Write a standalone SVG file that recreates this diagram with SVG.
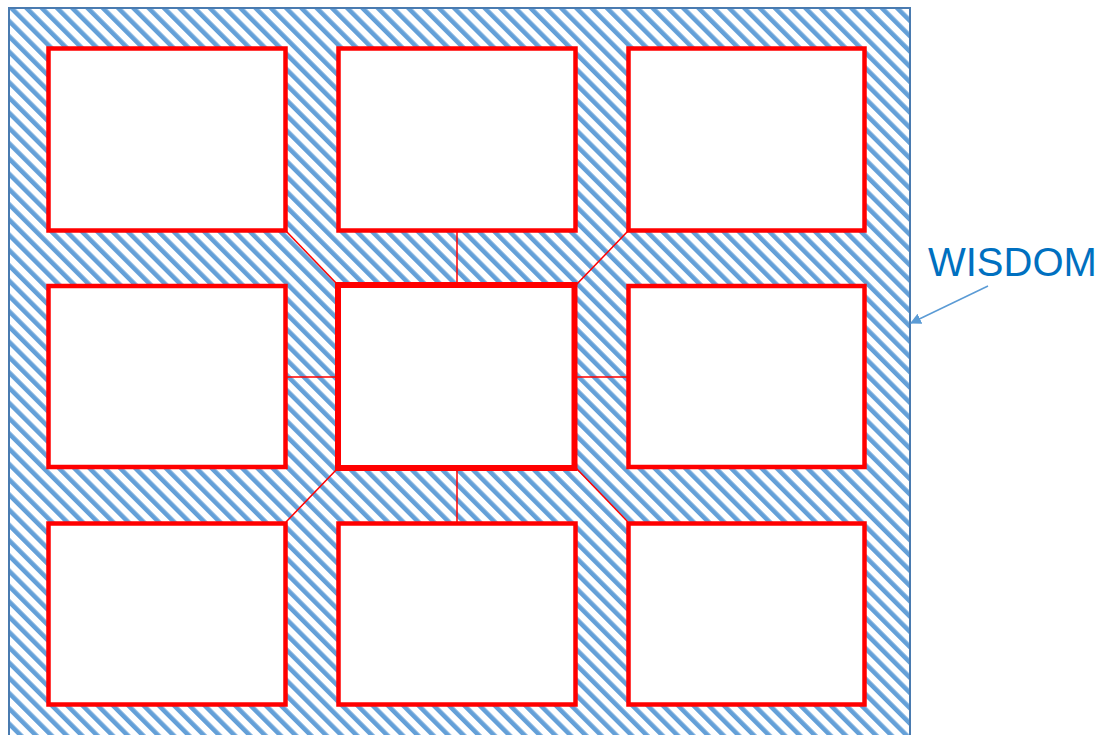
<svg xmlns="http://www.w3.org/2000/svg" width="1104" height="735" viewBox="0 0 1104 735">
  <style>
    .box { fill: #ffffff; stroke: #ff0000; stroke-width: 4.5; }
    .center { stroke-width: 6; }
    .conn { stroke: #ff0000; stroke-width: 1.5; fill: none; }
    .label { font-family: "Liberation Sans", Arial, sans-serif; font-size: 40px; fill: #0070c0; }
  </style>
  <defs>
    <pattern id="hatch" patternUnits="userSpaceOnUse" width="10.8" height="10.8" patternTransform="rotate(-45)">
      <rect x="0" y="0" width="10.8" height="10.8" fill="#ffffff"/>
      <rect x="0" y="0" width="4.6" height="10.8" fill="#64a0d8"/>
    </pattern>
    <marker id="arrow" viewBox="0 0 10 10" refX="9" refY="5" markerWidth="11" markerHeight="11" markerUnits="userSpaceOnUse" orient="auto">
      <path d="M0,0 L10,5 L0,10 z" fill="#5b9bd5"/>
    </marker>
  </defs>

  <g id="wisdom-area">
    <rect x="9" y="8" width="901" height="740" fill="url(#hatch)" stroke="#4a7bb0" stroke-width="2"/>
  </g>

  <g id="connectors">
    <line class="conn" x1="286" y1="231" x2="338" y2="285"/>
    <line class="conn" x1="457" y1="231" x2="457" y2="285"/>
    <line class="conn" x1="628" y1="231" x2="576" y2="285"/>
    <line class="conn" x1="286" y1="377" x2="338" y2="377"/>
    <line class="conn" x1="576" y1="377" x2="628" y2="377"/>
    <line class="conn" x1="338" y1="468" x2="286" y2="522"/>
    <line class="conn" x1="457" y1="468" x2="457" y2="522"/>
    <line class="conn" x1="576" y1="468" x2="628" y2="522"/>
    <line x1="988" y1="286" x2="911" y2="323" stroke="#5b9bd5" stroke-width="1.5" marker-end="url(#arrow)"/>
  </g>

  <g id="box-1"><rect class="box" x="48.5" y="48.5" width="237" height="182"/></g>
  <g id="box-2"><rect class="box" x="338.5" y="48.5" width="237" height="182"/></g>
  <g id="box-3"><rect class="box" x="628.5" y="48.5" width="236" height="182"/></g>
  <g id="box-4"><rect class="box" x="48.5" y="286" width="237" height="181"/></g>
  <g id="box-center"><rect class="box center" x="338" y="285" width="236.5" height="183"/></g>
  <g id="box-6"><rect class="box" x="628.5" y="286" width="236" height="181"/></g>
  <g id="box-7"><rect class="box" x="48.5" y="523.5" width="237" height="181"/></g>
  <g id="box-8"><rect class="box" x="338.5" y="523.5" width="237" height="181"/></g>
  <g id="box-9"><rect class="box" x="628.5" y="523.5" width="236" height="181"/></g>

  <g id="wisdom-label">
    <text class="label" x="928" y="276">WISDOM</text>
  </g>
</svg>
